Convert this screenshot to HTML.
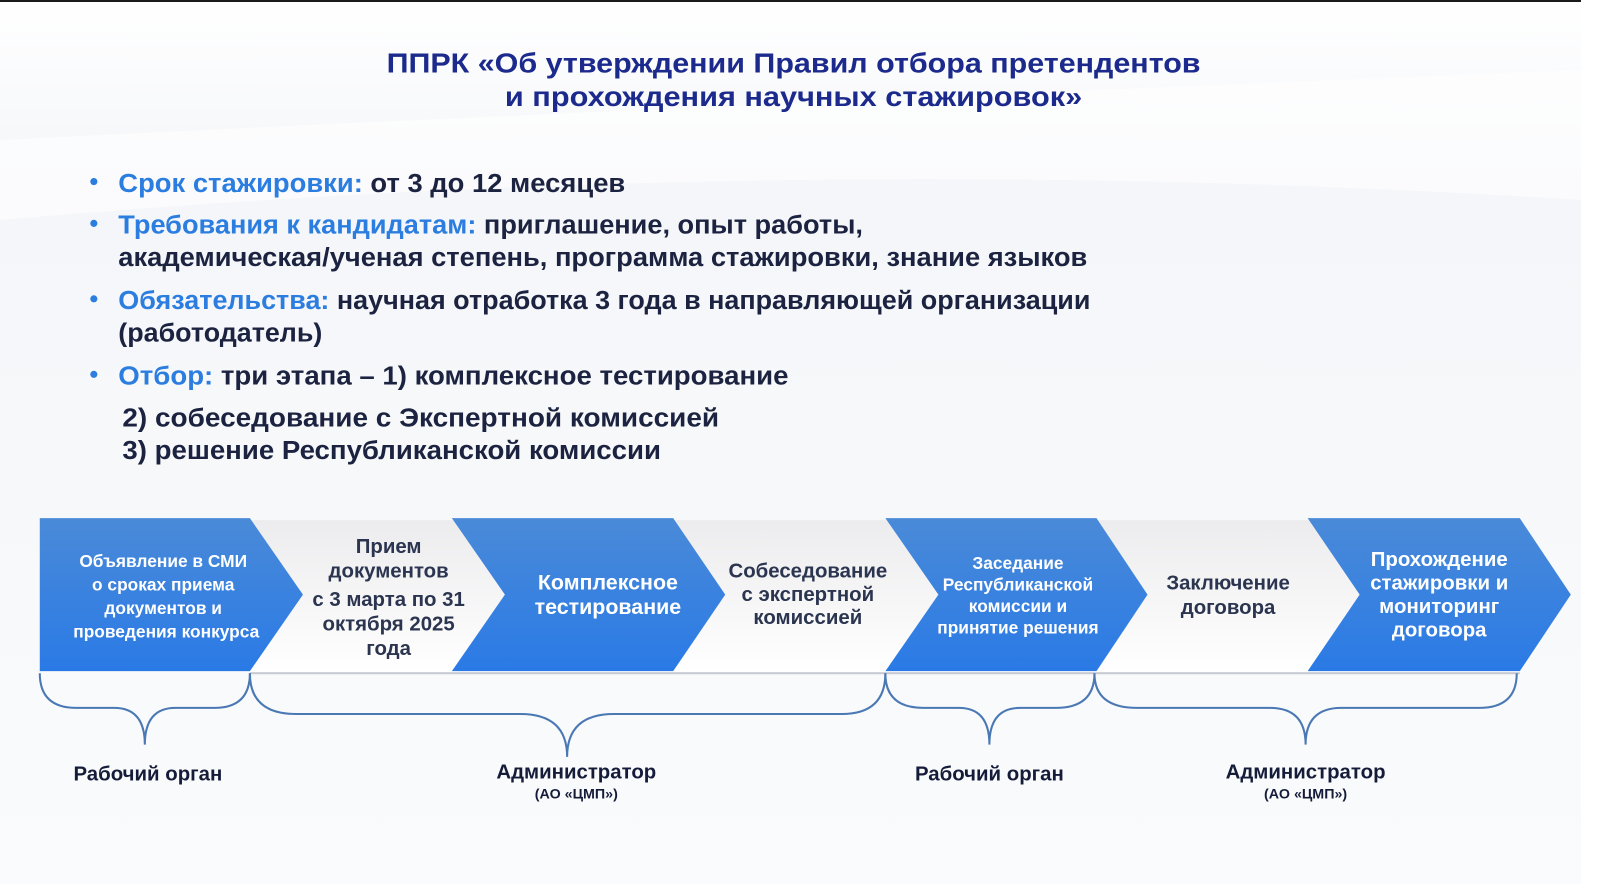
<!DOCTYPE html>
<html><head><meta charset="utf-8"><style>
html,body{margin:0;padding:0;background:#fff;}
svg{display:block;font-family:"Liberation Sans","DejaVu Sans",sans-serif;}
</style></head><body>
<svg width="1600" height="884" viewBox="0 0 1600 884" xmlns="http://www.w3.org/2000/svg">
<defs>
<linearGradient id="bg" x1="0" y1="0" x2="0" y2="1">
<stop offset="0" stop-color="#ffffff"/><stop offset="0.2" stop-color="#f4f6f9"/><stop offset="1" stop-color="#fafbfc"/>
</linearGradient>
<linearGradient id="blue" x1="0" y1="0" x2="0" y2="1">
<stop offset="0" stop-color="#4a8ad8"/><stop offset="1" stop-color="#2a7ae6"/>
</linearGradient>
<linearGradient id="gray" x1="0" y1="0" x2="0" y2="1">
<stop offset="0" stop-color="#ececee"/><stop offset="1" stop-color="#ffffff"/>
</linearGradient>
</defs>
<rect x="0" y="0" width="1581" height="884" fill="url(#bg)"/>
<rect x="0" y="0" width="1581" height="2" fill="#1a1a1a"/>
<path d="M0 140 Q600 110 1581 70 L1581 200 Q800 150 0 220 Z" fill="#ffffff" opacity="0.6"/>
<g transform="scale(1.02)">
<g font-weight="bold" fill="#1b2a8c" font-size="27" text-anchor="middle">
<text x="778" y="71" textLength="798" lengthAdjust="spacingAndGlyphs">ППРК «Об утверждении Правил отбора претендентов</text>
<text x="778" y="104" textLength="566" lengthAdjust="spacingAndGlyphs">и прохождения научных стажировок»</text>
</g>

<g font-size="25" font-weight="bold" fill="#1c2340">
<g fill="#2b7de0"><circle cx="92" cy="178" r="3.5"/><circle cx="92" cy="219" r="3.5"/><circle cx="92" cy="293" r="3.5"/><circle cx="92" cy="367" r="3.5"/></g>
<text x="116" y="188" textLength="497" lengthAdjust="spacingAndGlyphs"><tspan fill="#2b7de0">Срок стажировки:</tspan> от 3 до 12 месяцев</text>
<text x="116" y="229" textLength="730" lengthAdjust="spacingAndGlyphs"><tspan fill="#2b7de0">Требования к кандидатам:</tspan> приглашение, опыт работы,</text>
<text x="116" y="261" textLength="950" lengthAdjust="spacingAndGlyphs">академическая/ученая степень, программа стажировки, знание языков</text>
<text x="116" y="303" textLength="953" lengthAdjust="spacingAndGlyphs"><tspan fill="#2b7de0">Обязательства:</tspan> научная отработка 3 года в направляющей организации</text>
<text x="116" y="335" textLength="200" lengthAdjust="spacingAndGlyphs">(работодатель)</text>
<text x="116" y="377" textLength="657" lengthAdjust="spacingAndGlyphs"><tspan fill="#2b7de0">Отбор:</tspan> три этапа – 1) комплексное тестирование</text>
<text x="120" y="418" textLength="585" lengthAdjust="spacingAndGlyphs">2)  собеседование с Экспертной комиссией</text>
<text x="120" y="450" textLength="528" lengthAdjust="spacingAndGlyphs">3) решение Республиканской комиссии</text>
</g>

<rect x="245" y="510" width="1245" height="150" fill="url(#gray)"/>
<line x1="245" y1="660" x2="1490" y2="660" stroke="#c8ccd2" stroke-width="2"/>
<g fill="url(#blue)">
<path d="M39 508 L245 508 L297 583 L245 658 L39 658 Z"/>
<path d="M443 508 L660 508 L711 583 L660 658 L443 658 L495 583 Z"/>
<path d="M868 508 L1075 508 L1125 583 L1075 658 L868 658 L920 583 Z"/>
<path d="M1282 508 L1490 508 L1540 583 L1490 658 L1282 658 L1333 583 Z"/>
</g>

<g font-weight="bold" text-anchor="middle">
<g fill="#fff" font-size="17">
<text x="160" y="556">Объявление в СМИ</text>
<text x="160" y="579">о сроках приема</text>
<text x="160" y="602">документов и</text>
<text x="163" y="625">проведения конкурса</text>
<text x="596" y="578" font-size="21">Комплексное</text>
<text x="596" y="602" font-size="21">тестирование</text>
<text x="998" y="558">Заседание</text>
<text x="998" y="579">Республиканской</text>
<text x="998" y="600">комиссии и</text>
<text x="998" y="621">принятие решения</text>
<text x="1411" y="555" font-size="20">Прохождение</text>
<text x="1411" y="578" font-size="20">стажировки и</text>
<text x="1411" y="601" font-size="20">мониторинг</text>
<text x="1411" y="624" font-size="20">договора</text>
</g>
<g fill="#2b3550" font-size="20">
<text x="381" y="542">Прием</text>
<text x="381" y="566">документов</text>
<text x="381" y="594">с 3 марта по 31</text>
<text x="381" y="618">октября 2025</text>
<text x="381" y="642">года</text>
<text x="792" y="566">Собеседование</text>
<text x="792" y="589">с экспертной</text>
<text x="792" y="612">комиссией</text>
<text x="1204" y="578">Заключение</text>
<text x="1204" y="602">договора</text>
</g>
</g>

<g fill="none" stroke="#4a78b4" stroke-width="2">
<path d="M39 660 Q39 694 75 694 L112 694 Q142 694 142 730 Q142 694 172 694 L210 694 Q245 694 245 660"/>
<path d="M245 660 Q245 700 290 700 L510 700 Q556 700 556 742 Q556 700 602 700 L825 700 Q868 700 868 660"/>
<path d="M868 660 Q868 694 905 694 L940 694 Q970 694 970 730 Q970 694 1000 694 L1035 694 Q1073 694 1073 660"/>
<path d="M1073 660 Q1073 694 1115 694 L1245 694 Q1280 694 1280 730 Q1280 694 1315 694 L1450 694 Q1487 694 1487 660"/>
</g>

<g font-weight="bold" fill="#151c3a" text-anchor="middle">
<text x="145" y="765" font-size="20">Рабочий орган</text>
<text x="565" y="763" font-size="20">Администратор</text>
<text x="565" y="783" font-size="14">(АО «ЦМП»)</text>
<text x="970" y="765" font-size="20">Рабочий орган</text>
<text x="1280" y="763" font-size="20">Администратор</text>
<text x="1280" y="783" font-size="14">(АО «ЦМП»)</text>
</g>
</g>
</svg>
</body></html>
